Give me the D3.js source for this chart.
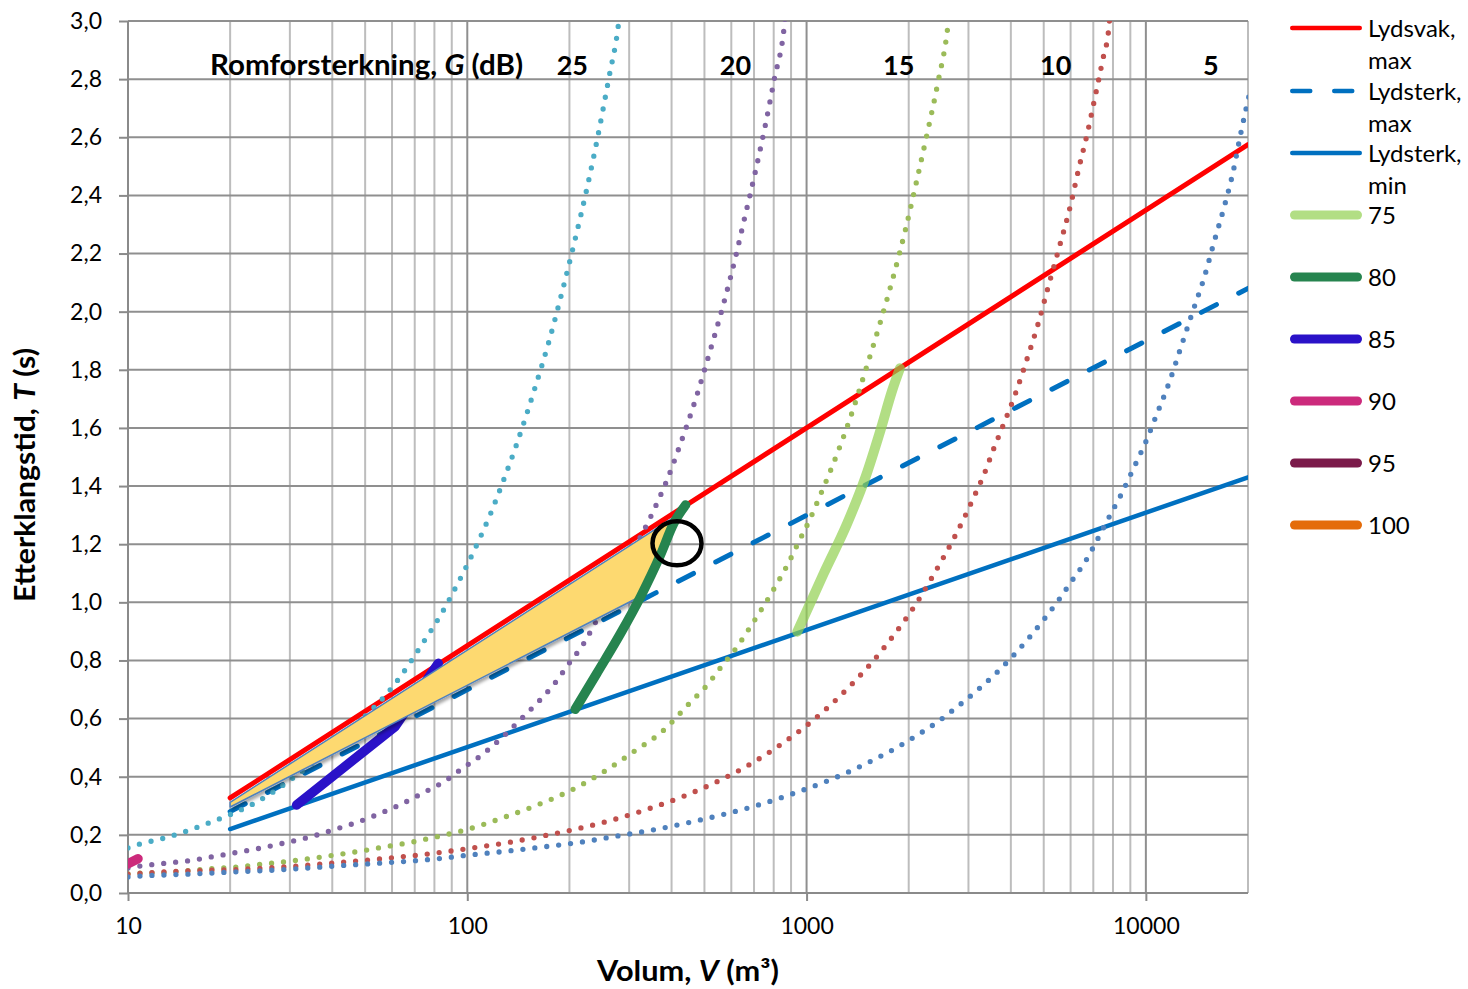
<!DOCTYPE html>
<html><head><meta charset="utf-8">
<script src="https://cdn.jsdelivr.net/npm/d3@7"></script>
<style>
html,body{margin:0;padding:0;background:#fff;}
svg{display:block;font-family:Lato,"Open Sans",sans-serif;}
</style></head><body>
<svg id="chart" width="1468" height="989"></svg>
<script>
// ---------- DATA (V in m³, T in s) ----------
const xDecades = [10, 100, 1000, 10000];
const xTickLabels = ["10", "100", "1000", "10000"];
const yTickValues = [0, 0.2, 0.4, 0.6, 0.8, 1.0, 1.2, 1.4, 1.6, 1.8, 2.0, 2.2, 2.4, 2.6, 2.8, 3.0];

const lydsvakMax  = [[20, 0.327], [20000, 2.575]];
const lydsterkMax = [[20, 0.28],  [20000, 2.08]];
const lydsterkMin = [[20, 0.22],  [20000, 1.43]];

const level75 = [[939,0.899],[1124,1.100],[1318,1.272],[1493,1.432],[1652,1.593],[1789,1.730],[1884,1.805]];
const level80 = [[208,0.632],[241,0.756],[283,0.893],[324,1.019],[371,1.163],[406,1.272],[440,1.335]];
const level85 = [[31.4,0.303],[61.2,0.572],[82.1,0.79]];
const level90 = [[9.0,0.074],[10.7,0.118]];
const level95 = [];
const level100 = [];

const legendLabels = [["Lydsvak,","max"],["Lydsterk,","max"],["Lydsterk,","min"],["75"],["80"],["85"],["90"],["95"],["100"]];

// Romforsterkning G curves (dotted)
const g25 = [[10,0.155],[10.8,0.168],[12.7,0.188],[14.9,0.213],[17.4,0.242],[20.4,0.274],[23.6,0.309],[27.3,0.354],[31.0,0.400],[51.0,0.618],[57.8,0.684],[64.0,0.750],[73.3,0.853],[84.0,0.962],[94.9,1.077],[105.5,1.186],[117,1.304],[128,1.421],[139.5,1.541],[158.7,1.742],[174.5,1.902],[190.3,2.068],[205.9,2.229],[226.4,2.436],[242.4,2.602],[261.8,2.808],[278,2.975],[281,3.02]];
const g20 = [[10,0.086],[10.9,0.093],[12.8,0.102],[15.1,0.111],[17.8,0.125],[21,0.140],[24.7,0.155],[29.1,0.173],[34.2,0.192],[40.2,0.217],[47,0.242],[54.9,0.272],[64,0.306],[74.2,0.345],[85.9,0.385],[98.4,0.435],[105.4,0.458],[128,0.540],[143,0.595],[162,0.658],[181,0.721],[199,0.788],[220,0.857],[241,0.940],[300,1.15],[363,1.343],[388,1.421],[423,1.539],[471,1.699],[518,1.860],[568,2.023],[617,2.186],[653,2.310],[704,2.474],[755,2.639],[805,2.805],[857,2.969],[866,3.02]];
const g15 = [[10,0.066],[10.9,0.068],[12.8,0.071],[15.1,0.077],[17.8,0.084],[21.1,0.090],[24.7,0.099],[29.3,0.108],[34.7,0.119],[40.9,0.131],[48.3,0.144],[57.2,0.159],[67.3,0.173],[78.8,0.190],[92.9,0.209],[100.9,0.220],[127.4,0.259],[161,0.303],[202.7,0.354],[252.5,0.417],[309,0.486],[376.7,0.557],[452,0.653],[507,0.713],[561,0.779],[624,0.847],[683,0.916],[748,0.988],[814,1.060],[883,1.134],[949,1.209],[1023,1.286],[1092,1.363],[1164,1.440],[1237,1.518],[1349,1.639],[1493,1.799],[1646,1.960],[1801,2.120],[1959,2.285],[2111,2.450],[2270,2.616],[2430,2.780],[2612,2.988],[2630,3.02]];
const g10 = [[10,0.065],[10.9,0.068],[15.1,0.076],[21.1,0.081],[29.3,0.090],[41,0.104],[57.2,0.119],[78.8,0.136],[102,0.154],[130.9,0.173],[167,0.196],[212.9,0.222],[271,0.253],[345,0.291],[436.5,0.334],[549,0.385],[684,0.444],[842,0.512],[1027,0.587],[1240,0.672],[1398,0.733],[1565,0.796],[1737,0.861],[1919,0.928],[2111,0.998],[2300,1.070],[2500,1.143],[2708,1.217],[2918,1.292],[3131,1.369],[3350,1.446],[3554,1.526],[3776,1.602],[4136,1.721],[4478,1.842],[4824,1.962],[5150,2.084],[5508,2.206],[6008,2.370],[6344,2.493],[6729,2.616],[7087,2.740],[7447,2.862],[7796,2.988],[7830,3.02]];
const g5 = [[10,0.055],[10.8,0.058],[12.8,0.062],[15.1,0.065],[21,0.073],[29.3,0.081],[41,0.093],[57.2,0.104],[78.8,0.116],[102,0.131],[131,0.144],[168.7,0.159],[216.5,0.175],[276.5,0.196],[353,0.217],[452,0.243],[576.5,0.272],[731.6,0.305],[928,0.345],[1172,0.389],[1367,0.423],[1587,0.460],[1843,0.500],[2126,0.544],[2435,0.589],[2783,0.641],[3167,0.695],[3580,0.751],[4025,0.811],[4494,0.874],[4990,0.939],[5525,1.007],[6078,1.077],[6650,1.143],[7226,1.220],[7806,1.295],[8440,1.369],[9070,1.446],[9730,1.522],[10070,1.561],[10700,1.639],[11720,1.757],[12680,1.877],[13720,1.998],[14860,2.118],[15900,2.241],[17020,2.361],[18100,2.484],[18970,2.604],[20400,2.772]];

const gCurveLabels = ["25", "20", "15", "10", "5"];
const gLabelAnchorsV = [204, 617, 1868, 5426, 15550];   // where each G label sits (m³)

// highlighted zone and marked point
const yellowZone = [[20,0.312],[406,1.292],[358,1.146],[317,1.015],[20,0.296]];
const markedPoint = [415, 1.203];

// ---------- CHART ----------
const svg = d3.select("#chart");
const x = d3.scaleLog().domain([10, 20000]).range([128, 1248]);
const y = d3.scaleLinear().domain([0, 3]).range([893, 21]);

const defs = svg.append("defs");
defs.append("clipPath").attr("id","plotclip").append("rect")
  .attr("x",128).attr("y",21).attr("width",1120).attr("height",872);
const f = defs.append("filter").attr("id","shadow").attr("x","-10%").attr("y","-10%").attr("width","130%").attr("height","130%");
f.append("feDropShadow").attr("dx",2).attr("dy",2.5).attr("stdDeviation",1.5).attr("flood-color","#000").attr("flood-opacity",0.35);

// grid: vertical
const minorV = [];
xDecades.forEach(d => { for (let k = 1; k <= 9; k++) { const v = d*k; if (v <= 20000) minorV.push(v); } });
minorV.push(20000);
const grid = svg.append("g");
grid.selectAll("line.v").data(minorV).enter().append("line")
  .attr("x1", d => x(d)).attr("x2", d => x(d)).attr("y1", 21).attr("y2", 893)
  .attr("stroke", d => xDecades.includes(d) ? "#8f8f8f" : "#bdbdbd")
  .attr("stroke-width", 2);
grid.selectAll("line.h").data(yTickValues).enter().append("line")
  .attr("x1", 128).attr("x2", 1248).attr("y1", d => y(d)).attr("y2", d => y(d))
  .attr("stroke", "#8f8f8f").attr("stroke-width", 2);

// axes
const fmt = d => d3.format(".1f")(d).replace(".", ",");
const yAxis = svg.append("g").attr("transform","translate(128,0)")
  .call(d3.axisLeft(y).tickValues(yTickValues).tickFormat(fmt).tickSize(9).tickPadding(17));
const xAxis = svg.append("g").attr("transform","translate(0,893)")
  .call(d3.axisBottom(x).tickValues(xDecades).tickFormat((d,i) => xTickLabels[i]).tickSize(8).tickPadding(17));
[yAxis, xAxis].forEach(a => {
  a.select(".domain").attr("stroke","#8a8a8a").attr("stroke-width",2);
  a.selectAll(".tick line").attr("stroke","#8a8a8a").attr("stroke-width",2);
  a.selectAll(".tick text").attr("fill","#000").style("font-size","23px").style("font-family","Lato");
});
xAxis.select(".domain").attr("d","M128,0H1248");
yAxis.select(".domain").attr("d","M0,21V893");

// plot content
const plot = svg.append("g").attr("clip-path","url(#plotclip)");
const line = d3.line().x(d => x(d[0])).y(d => y(d[1]));
const smooth = d3.line().x(d => x(d[0])).y(d => y(d[1])).curve(d3.curveMonotoneX);

plot.append("path").datum(lydsterkMin).attr("d", line).attr("fill","none")
  .attr("stroke","#0070c0").attr("stroke-width",4.5).attr("stroke-linecap","round");
plot.append("path").datum(lydsterkMax).attr("d", line).attr("fill","none")
  .attr("stroke","#0070c0").attr("stroke-width",5).attr("stroke-linecap","round")
  .attr("stroke-dasharray","17 25");
plot.append("path").datum(lydsvakMax).attr("d", line).attr("fill","none")
  .attr("stroke","#ff0000").attr("stroke-width",5).attr("stroke-linecap","round");

const gSeries = [[g25,"#4bacc6"],[g20,"#8064a2"],[g15,"#9bbb59"],[g10,"#c0504d"],[g5,"#4f81bd"]];
gSeries.forEach(([data, col]) => {
  plot.append("path").datum(data).attr("d", smooth).attr("fill","none")
    .attr("stroke", col).attr("stroke-width",5.3).attr("stroke-linecap","round")
    .attr("stroke-dasharray","0 12");
});

plot.append("path").datum(level85).attr("d", line).attr("fill","none")
  .attr("stroke","#2a12c8").attr("stroke-width",9.5).attr("stroke-linecap","round").attr("stroke-linejoin","round");
plot.append("path").datum(level90).attr("d", line).attr("fill","none")
  .attr("stroke","#cc2a7c").attr("stroke-width",9.5).attr("stroke-linecap","round");

plot.append("path")
  .attr("d", d3.line().x(d => x(d[0])).y(d => y(d[1]))(yellowZone) + "Z")
  .attr("fill","#fdd970").attr("stroke","#4f81bd").attr("stroke-width",1.5)
  .attr("stroke-linejoin","round").attr("filter","url(#shadow)");

plot.append("path").datum(level80).attr("d", smooth).attr("fill","none")
  .attr("stroke","#26844f").attr("stroke-width",9.5).attr("stroke-linecap","round");
plot.append("path").datum(level75).attr("d", smooth).attr("fill","none")
  .attr("stroke","rgb(146,208,80)").attr("stroke-opacity",0.7).attr("stroke-width",10).attr("stroke-linecap","round");

svg.append("ellipse").attr("cx", x(markedPoint[0])).attr("cy", y(markedPoint[1]))
  .attr("rx", 24.5).attr("ry", 22).attr("fill","none").attr("stroke","#000").attr("stroke-width",4.5);

// G labels
const gl = svg.append("g").style("font-weight","700").attr("fill","#000");
const title = gl.append("text").attr("x", 210).attr("y", 75).style("font-size","28px")
  .attr("textLength", 313).attr("lengthAdjust","spacingAndGlyphs");
title.append("tspan").text("Romforsterkning, ");
title.append("tspan").style("font-style","italic").text("G");
title.append("tspan").text(" (dB)");
gCurveLabels.forEach((t, i) => {
  gl.append("text").attr("x", x(gLabelAnchorsV[i])).attr("y", 75).attr("text-anchor","middle")
    .style("font-size","27px").text(t);
});

// axis titles
const xt = svg.append("text").attr("x", 597).attr("y", 981)
  .style("font-weight","700").style("font-size","28px")
  .attr("textLength", 182).attr("lengthAdjust","spacingAndGlyphs");
xt.append("tspan").text("Volum, ");
xt.append("tspan").style("font-style","italic").text("V");
xt.append("tspan").text(" (m³)");
const yt = svg.append("text").attr("transform","translate(35,602) rotate(-90)")
  .style("font-weight","700").style("font-size","28px")
  .attr("textLength", 254).attr("lengthAdjust","spacingAndGlyphs");
yt.append("tspan").text("Etterklangstid, ");
yt.append("tspan").style("font-style","italic").text("T");
yt.append("tspan").text(" (s)");

// legend
const legendStyles = [
  {c:"#ff0000", w:4.5, dash:null, op:1},
  {c:"#0070c0", w:4.5, dash:"18 24", op:1},
  {c:"#0070c0", w:4.5, dash:null, op:1},
  {c:"rgb(146,208,80)", w:9, dash:null, op:0.7},
  {c:"#26844f", w:9, dash:null, op:1},
  {c:"#2a12c8", w:9, dash:null, op:1},
  {c:"#cc2a7c", w:9, dash:null, op:1},
  {c:"#7b1a4a", w:9, dash:null, op:1},
  {c:"#e46c0a", w:9, dash:null, op:1}
];
const legendY = [28, 91, 153, 215, 277, 339, 401, 463, 525];
const lg = svg.append("g").style("font-size","24px");
legendLabels.forEach((lab, i) => {
  const s = legendStyles[i];
  const cap = s.w/2;
  const p = lg.append("line").attr("x1", 1290 + cap).attr("x2", 1362 - cap)
    .attr("y1", legendY[i]).attr("y2", legendY[i])
    .attr("stroke", s.c).attr("stroke-opacity", s.op).attr("stroke-width", s.w).attr("stroke-linecap","round");
  if (s.dash) p.attr("stroke-dasharray", s.dash);
  lab.forEach((t, j) => {
    lg.append("text").attr("x", 1368).attr("y", legendY[i] + 9 + j*32).text(t);
  });
});
</script>
</body></html>
